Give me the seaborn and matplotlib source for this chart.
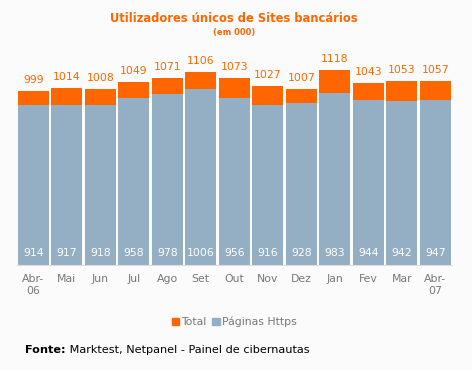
import pandas as pd
import matplotlib
matplotlib.use("Agg")
import matplotlib.pyplot as plt
import seaborn as sns
from matplotlib.patches import Patch

# data (thousands)
months = ["Abr-\n06", "Mai", "Jun", "Jul", "Ago", "Set", "Out", "Nov", "Dez",
          "Jan", "Fev", "Mar", "Abr-\n07"]
total = [999, 1014, 1008, 1049, 1071, 1106, 1073, 1027, 1007, 1118, 1043, 1053, 1057]
https = [914, 917, 918, 958, 978, 1006, 956, 916, 928, 983, 944, 942, 947]

ORANGE = "#ff6600"
BLUE = "#94aec4"
BG = "#fbfbfb"

df = pd.DataFrame({"mes": months, "Total": total, "Https": https})

sns.set_style("white")
plt.rcParams["font.family"] = ["DejaVu Sans"]

fig = plt.figure(figsize=(4.72, 3.70), dpi=100, facecolor=BG)
ax = fig.add_axes([16.5 / 472, 1 - 264.5 / 370, 435.5 / 472, (264.5 - 40) / 370])
ax.set_facecolor(BG)

sns.barplot(data=df, x="mes", y="Total", color=ORANGE, width=0.92,
            saturation=1, linewidth=0, ax=ax)
sns.barplot(data=df, x="mes", y="Https", color=BLUE, width=0.92,
            saturation=1, linewidth=0, ax=ax)

ax.set_xlim(-0.5, len(months) - 0.5)
ax.set_ylim(0, 1290)

for i in range(len(months)):
    ax.annotate(str(total[i]), (i, total[i]), xytext=(0, 6),
                textcoords="offset pixels", ha="center", va="bottom",
                color=ORANGE, fontsize=7.8)
    ax.annotate(str(https[i]), (i, 0), xytext=(0, 11),
                textcoords="offset pixels", ha="center", va="center",
                color="white", fontsize=7.8)

for s in ["top", "right", "left"]:
    ax.spines[s].set_visible(False)
ax.spines["bottom"].set_color("#dddddd")
ax.set_yticks([])
ax.set_xlabel("")
ax.set_ylabel("")
ax.set_xticks(range(len(months)))
ax.set_xticklabels(months, color="#777777", fontsize=7.8, linespacing=1.2)
ax.set_xticks([i - 0.5 for i in range(len(months) + 1)], minor=True)
ax.tick_params(axis="x", which="major", length=0, pad=7)
ax.tick_params(axis="x", which="minor", length=4, color="#dddddd", width=1)

fig.text(0.496, 1 - 19 / 370, "Utilizadores únicos de Sites bancários",
         ha="center", va="center", color=ORANGE, fontsize=8.3, fontweight="bold")
fig.text(0.496, 1 - 32 / 370, "(em 000)", ha="center", va="center",
         color=ORANGE, fontsize=6, fontweight="bold")

handles = [Patch(color=ORANGE, label="Total"), Patch(color=BLUE, label="Páginas Https")]
leg = fig.legend(handles=handles, loc="center", bbox_to_anchor=(0.496, 1 - 322 / 370),
                 ncol=2, frameon=False, fontsize=7.8, handlelength=0.7,
                 handleheight=0.7, handletextpad=0.2, columnspacing=0.5)
for t in leg.get_texts():
    t.set_color("#777777")

t1 = fig.text(25 / 472, 1 - 350 / 370, "Fonte:", ha="left", va="center",
              fontsize=8.1, fontweight="bold", color="black")
ax.annotate(" Marktest, Netpanel - Painel de cibernautas", xy=(1, 0.5),
            xycoords=t1, ha="left", va="center", fontsize=8.1, color="black",
            annotation_clip=False)

fig.savefig("out.png", dpi=100, facecolor=BG)
